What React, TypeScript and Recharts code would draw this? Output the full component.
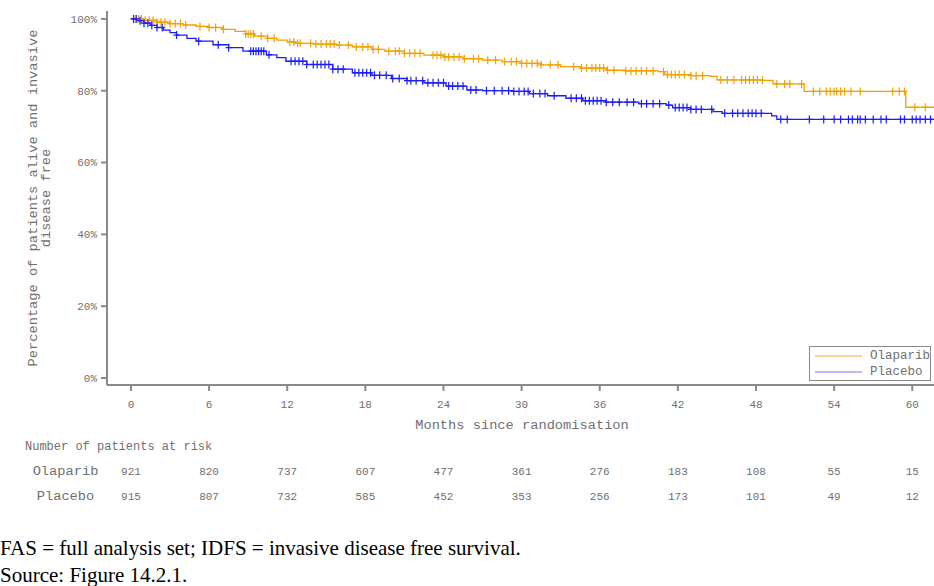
import {
  ComposedChart,
  Line,
  Scatter,
  XAxis,
  YAxis,
  Legend,
} from "recharts";

// months on the x axis and the at-risk table below it
const monthTicks = [0, 6, 12, 18, 24, 30, 36, 42, 48, 54, 60];
const olaparibAtRisk = [921, 820, 737, 607, 477, 361, 276, 183, 108, 55, 15];
const placeboAtRisk = [915, 807, 732, 585, 452, 353, 256, 173, 101, 49, 12];
const pctTicks = [0, 20, 40, 60, 80, 100];

// Kaplan-Meier steps (month, % event free)
const olaparibTime = [0, 1, 2, 3, 4, 5, 6, 7, 8, 8.8, 9.5, 10.5, 11.2, 12, 12.6, 14, 15.8, 17, 18.5, 19.5, 21, 22.5, 24, 25.5, 27, 28.5, 30, 31.5, 33, 34.5, 36.5, 38, 40.5, 41, 43, 44.5, 45, 48.5, 49.3, 51.7, 59.5, 62];
const olaparibSurv = [100, 99.6, 99.1, 98.7, 98.3, 97.9, 97.6, 97.1, 96.5, 95.8, 95.2, 94.6, 94.1, 93.6, 93.2, 93.0, 92.7, 92.2, 91.5, 91.0, 90.4, 89.9, 89.4, 88.9, 88.5, 88.1, 87.6, 87.2, 86.7, 86.3, 85.7, 85.5, 85.3, 84.5, 84.2, 84.0, 83.0, 82.9, 81.9, 79.8, 75.4, 75.4];
const placeboTime = [0, 0.5, 1, 1.5, 2, 2.5, 3, 3.5, 4.3, 5, 6.3, 7.5, 8.6, 10.4, 11.2, 11.9, 13.5, 15.5, 17, 18.5, 20, 21.2, 22.5, 24.2, 25.8, 27, 29.3, 30.6, 32, 33.4, 34.7, 36.5, 39, 41.1, 41.6, 43, 44.7, 45.4, 49.2, 49.6, 62];
const placeboSurv = [100, 99.5, 98.8, 98.2, 97.6, 96.9, 96.2, 95.5, 94.6, 93.8, 92.8, 92.0, 91.0, 90.0, 89.2, 88.2, 87.3, 86.0, 85.0, 84.3, 83.4, 82.8, 82.2, 81.3, 80.2, 80.0, 79.8, 79.2, 78.6, 77.9, 77.2, 76.8, 76.4, 76.0, 75.3, 74.8, 74.2, 73.7, 73.0, 72.0, 72.0];

// censored patients (month)
const olaparibCensor = [0.2, 0.4, 0.6, 0.8, 1.1, 1.4, 1.7, 2.0, 2.3, 2.6, 3.0, 3.4, 3.8, 4.2, 5.3, 6.0, 6.5, 7.1, 8.8, 9.0, 9.2, 9.4, 10.0, 10.5, 11.0, 12.2, 12.5, 12.8, 13.0, 13.8, 14.2, 14.6, 15.0, 15.3, 15.6, 16.0, 16.7, 17.3, 17.8, 18.2, 18.6, 19.0, 19.8, 20.3, 20.6, 21.0, 21.4, 21.8, 22.2, 23.2, 23.5, 23.8, 24.1, 24.4, 24.8, 25.2, 25.6, 26.3, 26.7, 27.4, 28.0, 28.7, 29.2, 29.6, 30.0, 30.4, 30.8, 31.2, 31.5, 32.2, 32.8, 34.0, 34.6, 35.0, 35.4, 35.7, 36.0, 36.3, 36.6, 37.1, 38.0, 38.4, 38.8, 39.2, 39.6, 40.1, 40.9, 41.2, 41.5, 41.8, 42.1, 42.5, 43.0, 43.4, 43.9, 45.3, 45.8, 46.3, 46.9, 47.2, 47.5, 47.8, 48.1, 48.5, 49.6, 50.2, 50.6, 51.5, 52.4, 52.9, 53.4, 53.7, 54.0, 54.2, 54.5, 54.8, 55.3, 56.0, 58.5, 59.0, 59.4, 60.2, 61.0];
const placeboCensor = [0.2, 0.4, 0.7, 1.0, 1.3, 1.6, 2.0, 2.4, 3.5, 5.2, 6.7, 7.5, 9.2, 9.4, 9.6, 9.8, 10.0, 10.2, 10.6, 12.3, 12.6, 12.9, 13.2, 13.5, 14.0, 14.3, 14.6, 14.9, 15.2, 15.5, 15.9, 16.3, 17.2, 17.5, 17.8, 18.1, 18.4, 18.7, 19.1, 19.6, 20.1, 20.6, 21.2, 21.5, 21.9, 22.4, 22.8, 23.2, 23.6, 24.0, 24.4, 24.7, 25.1, 25.5, 26.1, 26.5, 27.3, 27.9, 28.5, 29.0, 29.4, 29.8, 30.2, 30.5, 30.9, 31.4, 31.8, 32.5, 33.8, 34.2, 34.6, 34.9, 35.2, 35.5, 35.8, 36.1, 36.5, 37.0, 37.5, 38.1, 38.6, 39.2, 39.6, 40.1, 40.6, 41.3, 41.8, 42.1, 42.4, 42.7, 43.0, 43.4, 43.8, 44.6, 45.6, 46.2, 46.6, 47.0, 47.4, 47.7, 48.0, 48.4, 49.9, 50.4, 52.1, 53.2, 54.0, 54.5, 55.1, 55.4, 55.8, 56.0, 56.4, 57.0, 57.6, 58.0, 59.1, 59.4, 60.0, 60.3, 60.6, 61.0, 61.4];

const ORANGE = "#f3a100";
const BLUE = "#1c1cf5";
const GREY = "#8a8a8a";
const TXT = "#707070";
const MONO = "'Liberation Mono', 'DejaVu Sans Mono', monospace";

const xDomain: [number, number] = [-1.84, 61.9];
const yDomain: [number, number] = [-1.95, 102.2];

function steps(times: number[], surv: number[]) {
  return times.map((t, i) => ({ t, s: surv[i] }));
}

// value of the step curve at a censor time
function censorPoints(censor: number[], times: number[], surv: number[]) {
  return censor.map((t) => {
    let s = surv[0];
    for (let i = 0; i < times.length; i++) {
      if (times[i] <= t) s = surv[i];
    }
    return { t, s };
  });
}

const olaparibLine = steps(olaparibTime, olaparibSurv);
const placeboLine = steps(placeboTime, placeboSurv);
const olaparibMarks = censorPoints(olaparibCensor, olaparibTime, olaparibSurv);
const placeboMarks = censorPoints(placeboCensor, placeboTime, placeboSurv);

const plus = (color: string) => (props: any) => {
  const { cx, cy } = props;
  return (
    <path
      d={`M${cx},${cy - 4}V${cy + 4}M${cx - 3},${cy}H${cx + 3}`}
      stroke={color}
      strokeWidth={1.2}
      fill="none"
    />
  );
};

function MonthTick(props: any) {
  const { x, y, payload, index } = props;
  return (
    <g fontFamily={MONO} fill={TXT} fontSize={11} textAnchor="middle">
      <text x={x} y={y + 15}>{payload.value}</text>
      <text x={x} y={y + 82}>{olaparibAtRisk[index]}</text>
      <text x={x} y={y + 107}>{placeboAtRisk[index]}</text>
    </g>
  );
}

function YLabel(props: any) {
  const { viewBox } = props;
  const cy = viewBox.y + viewBox.height / 2;
  return (
    <g fontFamily={MONO} fill={TXT} fontSize={13.7} textAnchor="middle">
      <text x={33} y={cy} transform={`rotate(-90 33 ${cy})`} dominantBaseline="central">
        Percentage of patients alive and invasive
      </text>
      <text x={46} y={cy} transform={`rotate(-90 46 ${cy})`} dominantBaseline="central">
        disease free
      </text>
    </g>
  );
}

function XLabel(props: any) {
  const { viewBox } = props;
  return (
    <text
      x={viewBox.x + viewBox.width / 2}
      y={429}
      fontFamily={MONO}
      fill={TXT}
      fontSize={13.7}
      textAnchor="middle"
    >
      Months since randomisation
    </text>
  );
}

function KmLegend() {
  const items = [
    { name: "Olaparib", color: "#fbd494" },
    { name: "Placebo", color: "#b8b8ff" },
  ];
  return (
    <div
      style={{
        border: `1px solid ${GREY}`,
        width: 120,
        height: 33,
        background: "#fff",
        boxSizing: "content-box",
      }}
    >
      {items.map((it, i) => (
        <div
          key={it.name}
          style={{ display: "flex", alignItems: "center", height: 16.5, marginTop: i === 0 ? 0.5 : 0 }}
        >
          <span
            style={{ display: "inline-block", width: 47, height: 2, background: it.color, marginLeft: 5, marginRight: 8 }}
          />
          <span style={{ fontFamily: MONO, fontSize: 12.5, color: TXT }}>{it.name}</span>
        </div>
      ))}
    </div>
  );
}

export default function App() {
  return (
    <div
      style={{
        position: "absolute",
        left: 0,
        top: 0,
        width: 934,
        height: 586,
        overflow: "hidden",
        background: "#fff",
      }}
    >
      <ComposedChart width={938} height={515} margin={{ top: 11, right: 1, bottom: 0, left: 0 }}>
        <XAxis
          dataKey="t"
          type="number"
          domain={xDomain}
          ticks={monthTicks}
          allowDataOverflow
          height={130}
          stroke={GREY}
          strokeWidth={2}
          tickSize={6}
          tick={<MonthTick />}
          label={<XLabel />}
        />
        <XAxis
          xAxisId="top"
          orientation="top"
          type="number"
          domain={xDomain}
          height={0}
          tick={false}
          tickLine={false}
          stroke={GREY}
          strokeWidth={2}
        />
        <YAxis
          dataKey="s"
          type="number"
          domain={yDomain}
          ticks={pctTicks}
          allowDataOverflow
          width={107}
          stroke={GREY}
          strokeWidth={2}
          tickSize={6}
          tickMargin={4}
          tickFormatter={(v) => `${v}%`}
          tick={{ fontFamily: MONO, fontSize: 11, fill: TXT }}
          label={<YLabel />}
        />
        <Legend
          layout="vertical"
          align="center"
          verticalAlign="middle"
          content={<KmLegend />}
          wrapperStyle={{ left: 809, top: 346, width: 122, height: 35 }}
        />
        <Line
          data={olaparibLine}
          dataKey="s"
          name="Olaparib"
          type="stepAfter"
          stroke={ORANGE}
          strokeWidth={1.3}
          dot={false}
          isAnimationActive={false}
        />
        <Line
          data={placeboLine}
          dataKey="s"
          name="Placebo"
          type="stepAfter"
          stroke={BLUE}
          strokeWidth={1.3}
          dot={false}
          isAnimationActive={false}
        />
        <Scatter data={olaparibMarks} dataKey="s" shape={plus(ORANGE)} isAnimationActive={false} legendType="none" />
        <Scatter data={placeboMarks} dataKey="s" shape={plus(BLUE)} isAnimationActive={false} legendType="none" />
      </ComposedChart>

      <svg
        width={934}
        height={586}
        style={{ position: "absolute", left: 0, top: 0, pointerEvents: "none" }}
      >
        <g fontFamily={MONO} fill={TXT}>
          <text x={25} y={450} fontSize={12}>Number of patients at risk</text>
          <text x={65.5} y={475} fontSize={13.7} textAnchor="middle">Olaparib</text>
          <text x={65.5} y={500} fontSize={13.7} textAnchor="middle">Placebo</text>
        </g>
        <g fontFamily="'Liberation Serif', 'Times New Roman', serif" fill="#000" fontSize={21}>
          <text x={0} y={555}>FAS = full analysis set; IDFS = invasive disease free survival.</text>
          <text x={0} y={582}>Source: Figure 14.2.1.</text>
        </g>
      </svg>
    </div>
  );
}
